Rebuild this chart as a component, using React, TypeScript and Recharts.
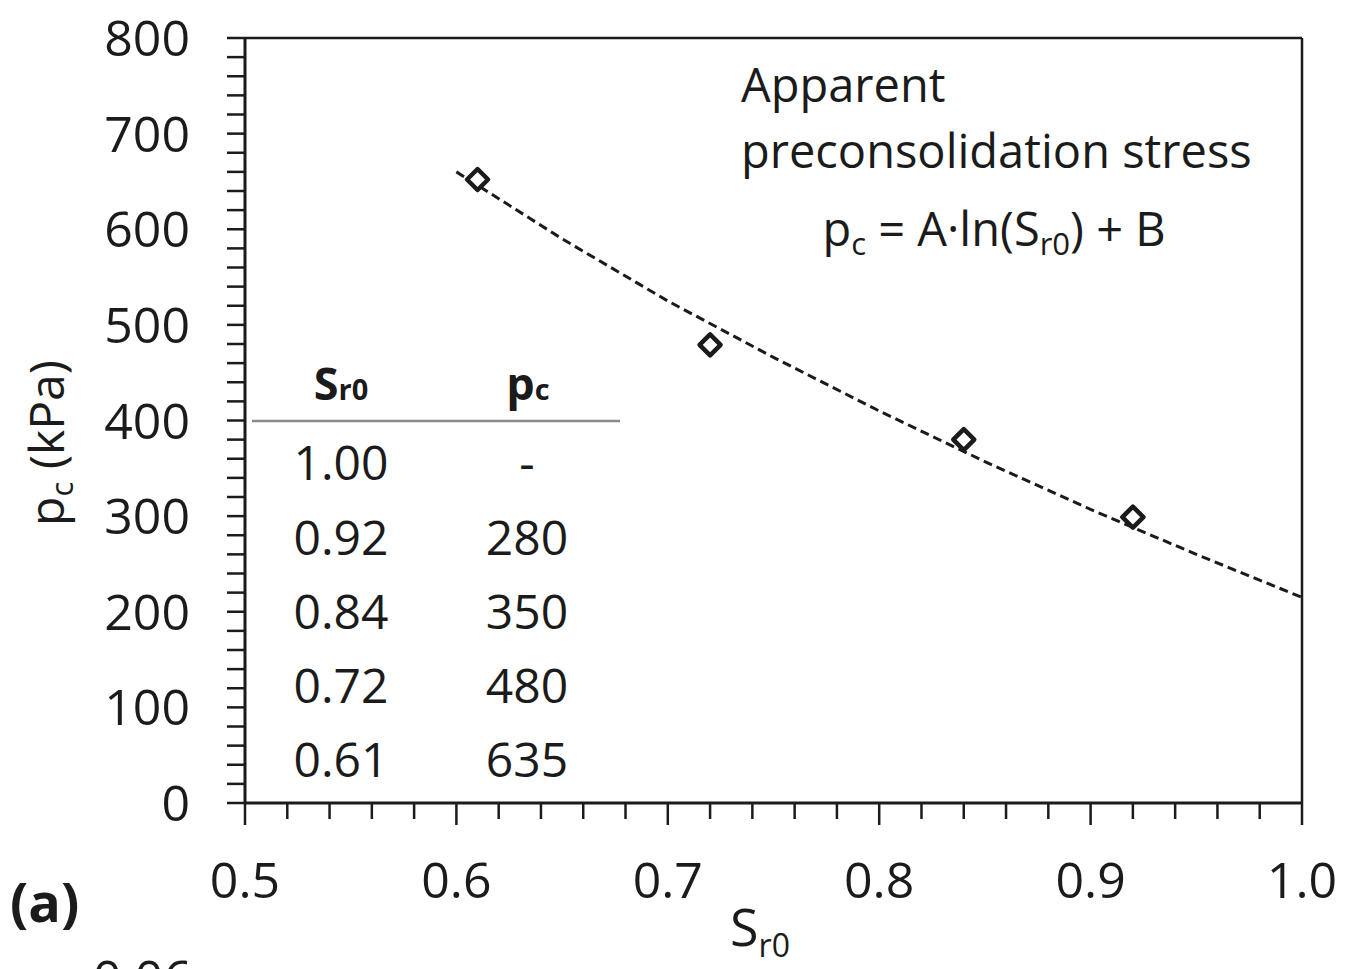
import React from "react";
import { ScatterChart, Scatter, XAxis, YAxis, ReferenceLine } from "recharts";

// Measured points (S_r0, p_c)
const pointX = [0.61, 0.72, 0.84, 0.92];
const pointY = [652, 479, 380, 299];

// Fitted curve
const fitX = [0.6, 0.65, 0.7, 0.75, 0.8, 0.85, 0.9, 0.95, 1.0];
const fitY = [660, 590, 525, 466, 410, 357, 307, 260, 215];

// Axis ticks
const xMajorTicks = [0.5, 0.6, 0.7, 0.8, 0.9, 1.0];
const xTicks = [
  0.5, 0.52, 0.54, 0.56, 0.58, 0.6, 0.62, 0.64, 0.66, 0.68, 0.7, 0.72, 0.74, 0.76, 0.78,
  0.8, 0.82, 0.84, 0.86, 0.88, 0.9, 0.92, 0.94, 0.96, 0.98, 1.0,
];
const yMajorTicks = [0, 100, 200, 300, 400, 500, 600, 700, 800];
const yTicks = Array.from({ length: 41 }, (_, i) => i * 20);

// Inset table
const tableSr0 = ["1.00", "0.92", "0.84", "0.72", "0.61"];
const tablePc = ["-", "280", "350", "480", "635"];

const points = pointX.map((x, i) => ({ x, y: pointY[i] }));
const fit = fitX.map((x, i) => ({ x, y: fitY[i] }));

const FONT = "'Open Sans', sans-serif";
const INK = "#1b1b1b";

const isMajorX = (v: number) => xMajorTicks.some((m) => Math.abs(m - v) < 1e-6);
const isMajorY = (v: number) => yMajorTicks.includes(v);

const XTick = (props: any) => {
  const { x, y, payload } = props;
  const v = payload.value as number;
  const major = isMajorX(v);
  return (
    <g>
      <line x1={x} x2={x} y1={y} y2={y + (major ? 22 : 16)} stroke={INK} strokeWidth={2.5} />
      {major && (
        <text x={x} y={y + 95} textAnchor="middle" fontFamily={FONT} fontSize={50} fill={INK}>
          {v.toFixed(1)}
        </text>
      )}
    </g>
  );
};

const YTick = (props: any) => {
  const { x, y, payload } = props;
  const v = payload.value as number;
  return (
    <g>
      <line x1={x - 18} x2={x} y1={y} y2={y} stroke={INK} strokeWidth={2.5} />
      {isMajorY(v) && (
        <text x={x - 55} y={y + 18} textAnchor="end" fontFamily={FONT} fontSize={50} fill={INK}>
          {v}
        </text>
      )}
    </g>
  );
};

const Diamond = (props: any) => {
  const { cx, cy } = props;
  const r = 10.5;
  return (
    <polygon
      points={`${cx},${cy - r} ${cx + r},${cy} ${cx},${cy + r} ${cx - r},${cy}`}
      fill="#fff"
      stroke={INK}
      strokeWidth={4.5}
      strokeLinejoin="round"
    />
  );
};

const NoShape = () => <g />;

export default function App() {
  const rowBase = [480, 555, 629, 703, 777];
  return (
    <div
      style={{
        position: "absolute",
        left: 0,
        top: 0,
        width: 1351,
        height: 969,
        overflow: "hidden",
        background: "#fff",
      }}
    >
      <ScatterChart width={1351} height={969} margin={{ top: 38, right: 49, left: 0, bottom: 0 }}>
        <XAxis
          type="number"
          dataKey="x"
          domain={[0.5, 1.0]}
          ticks={xTicks}
          interval={0}
          height={166}
          tickSize={0}
          tickMargin={0}
          tickLine={false}
          axisLine={{ stroke: INK, strokeWidth: 3 }}
          tick={<XTick />}
          allowDataOverflow
        />
        <YAxis
          type="number"
          dataKey="y"
          domain={[0, 800]}
          ticks={yTicks}
          interval={0}
          width={245}
          tickSize={0}
          tickMargin={0}
          tickLine={false}
          axisLine={{ stroke: INK, strokeWidth: 3 }}
          tick={<YTick />}
          allowDataOverflow
        />
        <ReferenceLine y={800} stroke={INK} strokeWidth={2.5} />
        <ReferenceLine x={1.0} stroke={INK} strokeWidth={2.5} />
        <Scatter
          data={fit}
          line={{ stroke: INK, strokeWidth: 3, strokeDasharray: "9 5" }}
          lineType="joint"
          shape={<NoShape />}
          isAnimationActive={false}
        />
        <Scatter data={points} shape={<Diamond />} isAnimationActive={false} />
      </ScatterChart>

      <svg
        width={1351}
        height={969}
        style={{ position: "absolute", left: 0, top: 0, pointerEvents: "none" }}
        fontFamily={FONT}
        fill={INK}
      >
        {/* Title / equation */}
        <text x={741} y={102} fontSize={47}>Apparent</text>
        <text x={741} y={168} fontSize={47}>preconsolidation stress</text>
        <text x={994} y={246} fontSize={47} textAnchor="middle">
          p<tspan fontSize={31} dy={9}>c</tspan>
          <tspan dy={-9}> = A·ln(S</tspan>
          <tspan fontSize={31} dy={9}>r0</tspan>
          <tspan dy={-9}>) + B</tspan>
        </text>

        {/* Inset table */}
        <text x={341} y={400} fontSize={45} fontWeight="bold" textAnchor="middle">
          S<tspan fontSize={29}>r0</tspan>
        </text>
        <text x={528} y={400} fontSize={45} fontWeight="bold" textAnchor="middle">
          p<tspan fontSize={29}>c</tspan>
        </text>
        <line x1={252} x2={620} y1={421} y2={421} stroke="#8a8a8a" strokeWidth={2.5} />
        {tableSr0.map((s, i) => (
          <text key={"s" + i} x={341} y={rowBase[i]} fontSize={48} textAnchor="middle">
            {s}
          </text>
        ))}
        {tablePc.map((p, i) => (
          <text key={"p" + i} x={527} y={rowBase[i]} fontSize={48} textAnchor="middle">
            {p}
          </text>
        ))}

        {/* Axis titles */}
        <text transform="translate(64,443) rotate(-90)" fontSize={48} textAnchor="middle">
          p<tspan fontSize={31} dy={9}>c</tspan>
          <tspan dy={-9}> (kPa)</tspan>
        </text>
        <text x={760} y={946} fontSize={52} textAnchor="middle">
          S<tspan fontSize={32} dy={11}>r0</tspan>
        </text>

        {/* Panel label */}
        <text x={10} y={922} fontSize={54} fontWeight="bold">(a)</text>

        {/* Top of next panel's tick label, cut off */}
        <text x={192} y={996} fontSize={50} textAnchor="end">0.06</text>
      </svg>
    </div>
  );
}
